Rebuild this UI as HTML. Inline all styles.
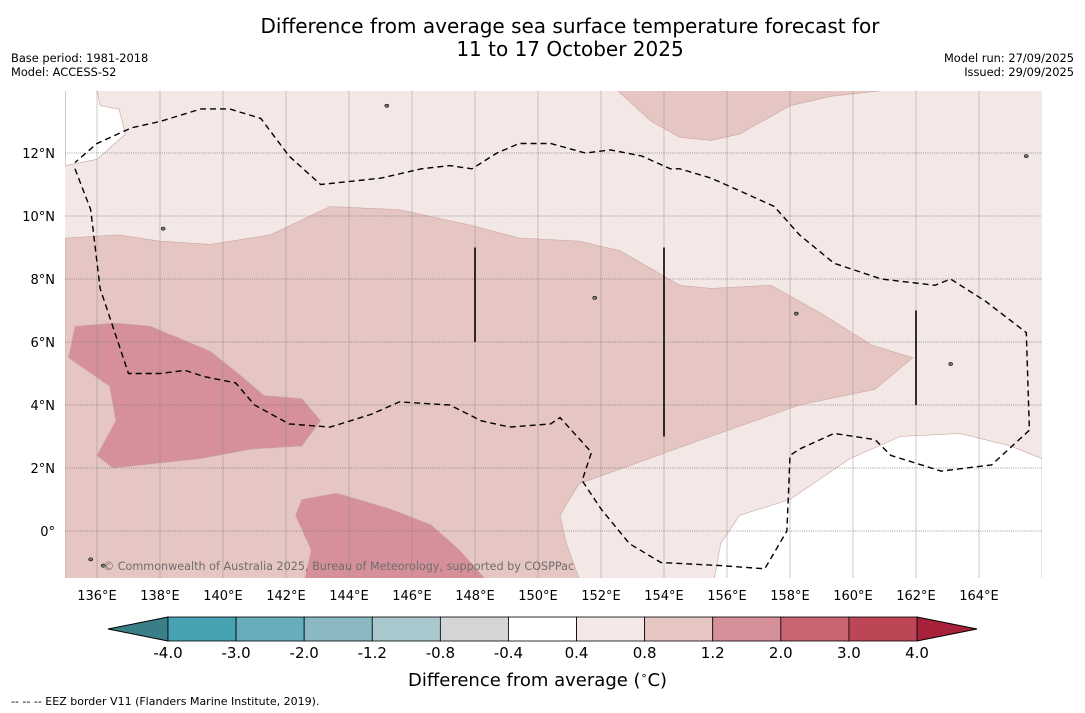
<!DOCTYPE html>
<html><head><meta charset="utf-8">
<style>
html,body{margin:0;padding:0;background:#fff;}
body{width:1085px;height:713px;position:relative;overflow:hidden;font-family:"DejaVu Sans","Liberation Sans",sans-serif;}
.t{position:absolute;white-space:nowrap;color:#000;}
</style></head>
<body>
<div class="t" style="left:0;width:1140px;top:15px;text-align:center;font-size:20px;line-height:23px;">Difference from average sea surface temperature forecast for<br>11 to 17 October 2025</div>
<div class="t" style="left:11px;top:51px;font-size:11.4px;line-height:14px;">Base period: 1981-2018<br>Model: ACCESS-S2</div>
<div class="t" style="right:11px;top:51px;font-size:11.4px;line-height:14px;text-align:right;">Model run: 27/09/2025<br>Issued: 29/09/2025</div>
<svg id="map" width="1085" height="713" style="position:absolute;left:0;top:0"></svg>
<div class="t" style="left:408px;top:669px;font-size:18px;">Difference from average (<sup style="font-size:11px">∘</sup>C)</div>
<div class="t" style="left:11px;top:695px;font-size:11px;">--  --  -- EEZ border V11 (Flanders Marine Institute, 2019).</div>
<script>
const levels=[-4.0,-3.0,-2.0,-1.2,-0.8,-0.4,0.4,0.8,1.2,2.0,3.0,4.0];
const colors=["#46a1b2","#68adbb","#8ab9c4","#a9c8cd","#d3d5d6","#ffffff","#f4e8e7","#e6c6c2","#d5909a","#c86470","#bc4556"];
const extLow="#3a7f87", extHigh="#a8213a";
const lonTicks=[136,138,140,142,144,146,148,150,152,154,156,158,160,162,164];
const latTicks=[0,2,4,6,8,10,12];
const regionBase=6;
const regions=[
 [5,[[135,14],[136,14],[136.1,13.5],[136.7,13.4],[136.9,12.6],[136,11.8],[135,11.6]]],
 [5,[[155.6,-1.5],[155.8,-0.4],[156.4,0.5],[158,1.0],[159.9,2.3],[161.5,3.0],[163.4,3.1],[165,2.7],[166,2.3],[166,-1.5]]],
 [7,[[135,9.3],[136.7,9.4],[138,9.2],[139.6,9.1],[141.5,9.4],[143.4,10.3],[145.6,10.2],[147.9,9.7],[149.4,9.3],[151.3,9.2],[152.6,8.9],[154.5,7.8],[155.5,7.7],[157.4,7.8],[159,6.9],[160.6,5.9],[161.9,5.5],[160.7,4.5],[158.3,4.0],[155.2,2.9],[151.3,1.5],[150.7,0.5],[150.9,-0.4],[151.3,-1.5],[135,-1.5]]],
 [7,[[152.5,14],[153.6,13.0],[154.5,12.5],[155.5,12.4],[156.4,12.6],[158,13.5],[159.3,13.8],[161.1,14]]],
 [8,[[135.3,6.5],[136.6,6.6],[137.7,6.5],[139.6,5.7],[140.6,4.9],[141.3,4.3],[142.5,4.2],[143.1,3.5],[142.5,2.7],[140.9,2.6],[139.3,2.3],[136.5,2.0],[136,2.4],[136.6,3.5],[136.4,4.6],[135.1,5.5]]],
 [8,[[142.5,1.0],[143.6,1.2],[145.3,0.7],[146.6,0.2],[147.5,-0.6],[148.3,-1.5],[142.6,-1.5],[142.8,-0.6],[142.3,0.5]]]
];
const eez=[[135.3,11.5],[135.8,10.2],[136.1,7.7],[137,5.0],[138,5.0],[138.8,5.1],[139.4,4.9],[140.4,4.7],[141,4.0],[142.1,3.4],[143.4,3.3],[144.7,3.7],[145.6,4.1],[147.2,4.0],[148.2,3.5],[149.1,3.3],[150.4,3.4],[150.7,3.6],[151.7,2.5],[151.4,1.6],[152,0.7],[152.9,-0.4],[153.9,-1.0],[155.8,-1.1],[157.2,-1.2],[157.9,0.0],[158,2.4],[158.3,2.6],[159.4,3.1],[160.7,2.9],[161.2,2.4],[162.8,1.9],[164.4,2.1],[165.6,3.2],[165.5,6.3],[164.2,7.3],[163.1,8.0],[162.6,7.8],[160.9,8.0],[159.4,8.5],[158.3,9.4],[157.5,10.3],[156.4,10.8],[155.5,11.2],[154.5,11.5],[154.2,11.5],[153.3,11.9],[152.3,12.1],[151.5,12.0],[150.4,12.3],[149.4,12.3],[148.7,12.0],[147.9,11.5],[147.2,11.6],[146.3,11.5],[145,11.2],[143.1,11.0],[142.1,11.9],[141.2,13.1],[140.2,13.4],[139.3,13.4],[138,13.0],[137.1,12.8],[136,12.3],[135.3,11.7]];
const bars=[[148,9,6],[154,9,3],[162,7,4]];
const islands=[[145.2,13.5],[138.1,9.6],[151.8,7.4],[158.2,6.9],[163.1,5.3],[135.8,-0.9],[136.2,-1.1],[165.5,11.9]];

const L=65,R=1042,T=91,B=578;
const x=lon=>97+(lon-136)*31.5;
const y=lat=>531-lat*31.5;
const svg=document.getElementById('map');
const NS='http://www.w3.org/2000/svg';
function mk(tag,attrs){const e=document.createElementNS(NS,tag);for(const k in attrs)e.setAttribute(k,attrs[k]);svg.appendChild(e);return e;}
const defs=mk('defs',{});
const cp=document.createElementNS(NS,'clipPath');cp.setAttribute('id','clip');
const cr=document.createElementNS(NS,'rect');cr.setAttribute('x',L);cr.setAttribute('y',T);cr.setAttribute('width',R-L);cr.setAttribute('height',B-T);
cp.appendChild(cr);defs.appendChild(cp);
const g=mk('g',{'clip-path':'url(#clip)'});
function add(tag,attrs){const e=document.createElementNS(NS,tag);for(const k in attrs)e.setAttribute(k,attrs[k]);g.appendChild(e);return e;}
const bg=add('rect',{x:L,y:T,width:R-L,height:B-T,fill:colors[regionBase]});


const pts=p=>p.map(q=>x(q[0]).toFixed(1)+','+y(q[1]).toFixed(1)).join(' ');
regions.forEach((r,i)=>{
 const e=add('polygon',{points:pts(r[1]),fill:colors[r[0]],stroke:'#c9a6a3','stroke-width':0.6});
 
 
});
lonTicks.forEach(lo=>{
 const e=add('line',{x1:x(lo),x2:x(lo),y1:T,y2:B,stroke:'#8a8a8a','stroke-width':0.7,'stroke-dasharray':'1,0.6'});
 
 
});
latTicks.forEach(la=>{
 const e=add('line',{x1:L,x2:R,y1:y(la),y2:y(la),stroke:'#7a7a7a','stroke-width':0.8,'stroke-dasharray':'1,1.2'});
 
 
});
islands.forEach((p,i)=>{
 const e=add('ellipse',{cx:x(p[0]),cy:y(p[1]),rx:2,ry:1.6,fill:'#777',stroke:'#000','stroke-width':0.6});
 
 
});
const eezLine=add('polyline',{points:pts(eez),fill:'none',stroke:'#000','stroke-width':1.4,'stroke-dasharray':'6,4'});


bars.forEach((b,i)=>{
 const e=add('line',{x1:x(b[0]),x2:x(b[0]),y1:y(b[1]),y2:y(b[2]),stroke:'#000','stroke-width':1.6});
 
 
});
const cw=add('text',{x:103,y:570,fill:'#6e6e6e','font-size':11.2,'font-family':'DejaVu Sans, Liberation Sans, sans-serif'});
cw.textContent='© Commonwealth of Australia 2025, Bureau of Meteorology, supported by COSPPac';


lonTicks.forEach(lo=>{
 const t=mk('text',{x:x(lo),y:600,'text-anchor':'middle','font-size':13,fill:'#000'});
 t.textContent=lo+'°E';
 
 
});
latTicks.forEach(la=>{
 const t=mk('text',{x:55,y:y(la)+5,'text-anchor':'end','font-size':13,fill:'#000'});
 t.textContent=la===0?'0°':la+'°N';
 
 
});
const cbL=168,cbR=917,cbT=617,cbB=641,n=colors.length,w=(cbR-cbL)/n;
const lt=mk('polygon',{points:`108,629 ${cbL},${cbT} ${cbL},${cbB}`,fill:extLow,stroke:'#000','stroke-width':1});


const ht=mk('polygon',{points:`977,629 ${cbR},${cbT} ${cbR},${cbB}`,fill:extHigh,stroke:'#000','stroke-width':1});


colors.forEach((c,i)=>{
 const e=mk('rect',{x:cbL+i*w,y:cbT,width:w,height:cbB-cbT,fill:c,stroke:'#000','stroke-width':0.8});
 
 
});
levels.forEach((v,i)=>{
 const t=mk('text',{x:cbL+i*w,y:658,'text-anchor':'middle','font-size':15,fill:'#000'});
 t.textContent=v.toFixed(1);
 
 
});
</script>
</body></html>
